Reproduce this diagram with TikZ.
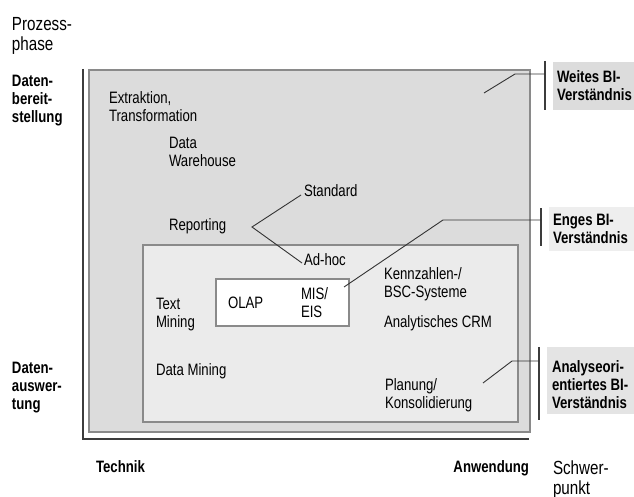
\documentclass[tikz,border=0pt]{standalone}
\usepackage{fontspec}
\newfontfamily\condf{Liberation Sans}[FakeStretch=0.8]
\newcommand\bodyf{\condf\fontsize{16.5}{18}\selectfont}
\newcommand\bigf{\condf\fontsize{19}{20}\selectfont}
\definecolor{axisgray}{HTML}{3C3C3C}
\definecolor{framegray}{HTML}{8A8A8A}
\definecolor{outerfill}{HTML}{DCDCDC}
\definecolor{innerfill}{HTML}{EBEBEB}
\definecolor{wfill}{HTML}{DCDCDC}
\definecolor{efill}{HTML}{EEEEEE}
\definecolor{afill}{HTML}{E4E4E4}
\definecolor{inkgray}{HTML}{333333}
\begin{document}
\begin{tikzpicture}[x=1pt,y=-1pt,
  txt/.style={anchor=north west, inner sep=0pt, outer sep=0pt, align=left,
    font=\bodyf, yshift=12.6pt},
  bold/.style={txt, font=\bodyf\bfseries},
  bigtxt/.style={anchor=north west, inner sep=0pt, outer sep=0pt, align=left,
    font=\bigf, yshift=14pt},
  area/.style={draw=framegray, line width=1.2pt, anchor=north west,
    inner sep=0pt, outer sep=0pt},
  axis/.style={draw=axisgray, line width=1.5pt},
  bracket/.style={draw=axisgray, line width=2pt},
  leader/.style={draw=inkgray, line width=0.9pt},
]
\useasboundingbox (0,0) rectangle (634,497);

% nested areas: broad, narrow and inner (OLAP) scope
\node[area, fill=outerfill, minimum width=441pt, minimum height=362pt] (outer) at (89,70) {};
\node[area, fill=innerfill, minimum width=375pt, minimum height=177pt] (inner) at (143,245) {};
\node[area, fill=white, minimum width=133pt, minimum height=47pt] (core) at (216,279) {};

% axes
\coordinate (origin) at (83,439);
\coordinate (ytop) at (83,69);
\coordinate (xend) at (529,439);
\draw[axis] (ytop) -- (origin) -- (xend);

% axis captions
\node[bigtxt] (prozess) at (12,31) {\strut Prozess-\\phase};
\node[bold] (bereit) at (12,87) {\strut Daten-\\bereit-\\stellung};
\node[bold] (auswert) at (12,373) {\strut Daten-\\auswer-\\tung};
\node[bold] (technik) at (96,472) {\strut Technik};
\node[bold, anchor=north east] (anwendung) at (529,472) {\strut Anwendung};
\node[bigtxt] (schwer) at (553,474) {\strut Schwer-\\punkt};

% content of the areas
\node[txt] (etl) at (109,104) {\strut Extraktion,\\Transformation};
\node[txt] (dwh) at (169,149) {\strut Data\\Warehouse};
\node[txt] (std) at (304,197) {\strut Standard};
\node[txt] (rep) at (169,230) {\strut Reporting};
\node[txt] (adh) at (304,265) {\strut Ad-hoc};
\node[txt] (textm) at (156,309) {\strut Text\\Mining};
\node[txt] (olap) at (228,308) {\strut OLAP};
\node[txt] (mis) at (301,299) {\strut MIS/\\EIS};
\node[txt] (kpi) at (384,279) {\strut Kennzahlen-/\\BSC-Systeme};
\node[txt] (crm) at (384,327) {\strut Analytisches CRM};
\node[txt] (datam) at (156,375) {\strut Data Mining};
\node[txt] (plan) at (385,390) {\strut Planung/\\Konsolidierung};

% reporting branches
\coordinate (repv) at (252,227);
\coordinate (stdend) at (301,195);
\coordinate (adhend) at (302,263);
\draw[leader] (stdend) -- (repv) -- (adhend);

% legend boxes on the right
\fill[wfill] (553,62) rectangle (634,110);
\fill[efill] (549,207) rectangle (634,251);
\fill[afill] (547,347) rectangle (634,414);
\node[bold] (weit) at (557,83) {\strut Weites BI-\\Verständnis};
\node[bold] (eng) at (553,225) {\strut Enges BI-\\Verständnis};
\node[bold] (analyse) at (552,372) {\strut Analyseori-\\entiertes BI-\\Verständnis};

% brackets and leader lines
\coordinate (wtop) at (545,61);
\coordinate (wbot) at (545,110);
\coordinate (etop) at (541,208);
\coordinate (ebot) at (541,246);
\coordinate (atop) at (539,347);
\coordinate (abot) at (539,420);
\draw[bracket] (wtop) -- (wbot);
\draw[bracket] (etop) -- (ebot);
\draw[bracket] (atop) -- (abot);

\coordinate (wtip) at (484,93);
\coordinate (wknee) at (515,74);
\coordinate (wjoin) at (545,74);
\draw[leader] (wtip) -- (wknee) -- (wjoin);

\coordinate (etip) at (344,287);
\coordinate (eknee) at (443,220);
\coordinate (ejoin) at (541,220);
\draw[leader] (etip) -- (eknee) -- (ejoin);

\coordinate (atip) at (483,383);
\coordinate (aknee) at (512,361);
\coordinate (ajoin) at (539,361);
\draw[leader] (atip) -- (aknee) -- (ajoin);
\end{tikzpicture}
\end{document}
